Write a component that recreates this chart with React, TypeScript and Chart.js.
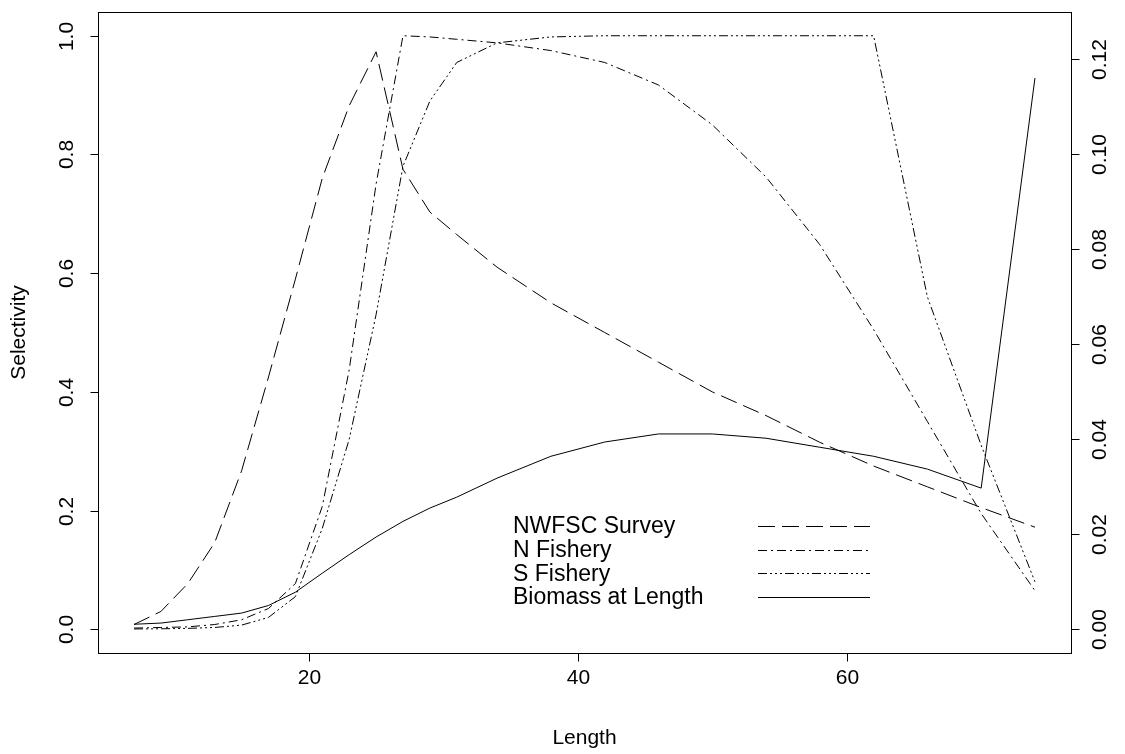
import React, { useEffect, useRef } from "react";
import { Chart, registerables } from "chart.js";

Chart.register(...registerables);

// Length bins (x values)
const lengths = [7, 9, 11, 13, 15, 17, 19, 21, 23, 25, 27, 29, 31, 34, 38, 42, 46, 50, 54, 58, 62, 66, 70, 74];
// Selectivity series (left axis)
const survey = [0.008, 0.03, 0.077, 0.146, 0.267, 0.425, 0.59, 0.76, 0.882, 0.973, 0.775, 0.703, 0.665, 0.61, 0.55, 0.5, 0.45, 0.4, 0.36, 0.315, 0.275, 0.24, 0.205, 0.172];
const nFishery = [0.002, 0.003, 0.004, 0.008, 0.016, 0.035, 0.077, 0.207, 0.437, 0.75, 1.0, 0.998, 0.994, 0.988, 0.975, 0.955, 0.917, 0.85, 0.762, 0.648, 0.505, 0.35, 0.195, 0.065];
const sFishery = [0.0005, 0.0008, 0.0015, 0.003, 0.007, 0.02, 0.055, 0.17, 0.32, 0.53, 0.78, 0.89, 0.955, 0.988, 0.998, 1, 1, 1, 1, 1, 1, 0.56, 0.31, 0.08];
// Biomass at length (right axis)
const biomass = [0.00105, 0.0013, 0.002, 0.0027, 0.0034, 0.005, 0.0078, 0.0118, 0.0157, 0.0194, 0.0227, 0.0255, 0.0278, 0.0318, 0.0364, 0.0394, 0.0411, 0.0411, 0.0402, 0.0383, 0.0364, 0.0337, 0.0297, 0.116];

// Ticks
const xTicks = [20, 40, 60];
const yTicks = [0, 0.2, 0.4, 0.6, 0.8, 1.0];
const yTickLabels = ["0.0", "0.2", "0.4", "0.6", "0.8", "1.0"];
const y2Ticks = [0, 0.02, 0.04, 0.06, 0.08, 0.1, 0.12];
const y2TickLabels = ["0.00", "0.02", "0.04", "0.06", "0.08", "0.10", "0.12"];

const seriesNames = ["NWFSC Survey", "N Fishery", "S Fishery", "Biomass at Length"];
const seriesDashes: number[][] = [[17, 7], [9, 4, 2, 4], [9, 3, 2, 3, 2, 3, 2, 3], []];

const FONT = '"Liberation Sans", Arial, Helvetica, sans-serif';

export default function App() {
  const ref = useRef<HTMLCanvasElement>(null);

  useEffect(() => {
    const canvas = ref.current;
    if (!canvas) return;

    const rPlugin = {
      id: "rStyleAxes",
      afterDraw(chart: any) {
        const ctx = chart.ctx as CanvasRenderingContext2D;
        const { left, right, top, bottom } = chart.chartArea;
        const xs = chart.scales.x;
        const ys = chart.scales.y;
        const y2 = chart.scales.y2;
        ctx.save();
        ctx.strokeStyle = "#000";
        ctx.fillStyle = "#000";
        ctx.lineWidth = 1;
        ctx.setLineDash([]);
        // box
        ctx.strokeRect(Math.round(left) + 0.5, Math.round(top) + 0.5, Math.round(right - left), Math.round(bottom - top));

        const tl = 8;
        // x axis ticks
        ctx.font = `21px ${FONT}`;
        ctx.textAlign = "center";
        ctx.textBaseline = "middle";
        xTicks.forEach((v) => {
          const px = Math.round(xs.getPixelForValue(v)) + 0.5;
          ctx.beginPath();
          ctx.moveTo(px, Math.round(bottom) + 0.5);
          ctx.lineTo(px, Math.round(bottom) + 0.5 + tl);
          ctx.stroke();
          ctx.fillText(String(v), px, 678);
        });
        // left axis
        yTicks.forEach((v, i) => {
          const py = Math.round(ys.getPixelForValue(v)) + 0.5;
          ctx.beginPath();
          ctx.moveTo(Math.round(left) + 0.5, py);
          ctx.lineTo(Math.round(left) + 0.5 - tl, py);
          ctx.stroke();
          ctx.save();
          ctx.translate(67, py);
          ctx.rotate(-Math.PI / 2);
          ctx.fillText(yTickLabels[i], 0, 0);
          ctx.restore();
        });
        // right axis
        y2Ticks.forEach((v, i) => {
          const py = Math.round(y2.getPixelForValue(v)) + 0.5;
          ctx.beginPath();
          ctx.moveTo(Math.round(right) + 0.5, py);
          ctx.lineTo(Math.round(right) + 0.5 + tl, py);
          ctx.stroke();
          ctx.save();
          ctx.translate(1100, py);
          ctx.rotate(-Math.PI / 2);
          ctx.fillText(y2TickLabels[i], 0, 0);
          ctx.restore();
        });
        // titles
        ctx.fillText("Length", (left + right) / 2, 738);
        ctx.save();
        ctx.translate(19, (top + bottom) / 2);
        ctx.rotate(-Math.PI / 2);
        ctx.fillText("Selectivity", 0, 0);
        ctx.restore();

        // legend
        ctx.font = `23px ${FONT}`;
        ctx.textAlign = "left";
        const rows = [526, 549.7, 573.4, 597];
        seriesNames.forEach((name, i) => {
          ctx.fillText(name, 513, rows[i] + 1);
          ctx.beginPath();
          ctx.setLineDash(seriesDashes[i]);
          ctx.moveTo(758, Math.round(rows[i]) + 0.5);
          ctx.lineTo(870, Math.round(rows[i]) + 0.5);
          ctx.stroke();
          ctx.setLineDash([]);
        });
        ctx.restore();
      },
    };

    const mk = (vals: number[]) => lengths.map((x, i) => ({ x, y: vals[i] }));
    const base = {
      borderColor: "#000",
      backgroundColor: "#000",
      borderWidth: 1,
      pointRadius: 0,
      tension: 0,
      fill: false,
    };

    const chart = new Chart(canvas, {
      type: "line",
      data: {
        datasets: [
          { ...base, label: seriesNames[0], data: mk(survey), borderDash: seriesDashes[0], yAxisID: "y" },
          { ...base, label: seriesNames[1], data: mk(nFishery), borderDash: seriesDashes[1], yAxisID: "y" },
          { ...base, label: seriesNames[2], data: mk(sFishery), borderDash: seriesDashes[2], yAxisID: "y" },
          { ...base, label: seriesNames[3], data: mk(biomass), borderDash: seriesDashes[3], yAxisID: "y2" },
        ],
      },
      options: {
        responsive: false,
        animation: false,
        devicePixelRatio: 1,
        layout: { padding: { left: 98, right: 54, top: 12, bottom: 101 } },
        plugins: { legend: { display: false }, title: { display: false }, tooltip: { enabled: false } },
        scales: {
          x: { type: "linear", min: 4.32, max: 76.68, display: false },
          y: { type: "linear", min: -0.04, max: 1.04, display: false },
          y2: { type: "linear", position: "right", min: -0.005, max: 0.1299, display: false },
        },
      },
      plugins: [rPlugin],
    } as any);

    return () => chart.destroy();
  }, []);

  return (
    <div style={{ position: "absolute", left: 0, top: 0, width: 1125, height: 754, background: "#fff" }}>
      <canvas ref={ref} width={1125} height={754} style={{ display: "block", width: 1125, height: 754 }} />
    </div>
  );
}
